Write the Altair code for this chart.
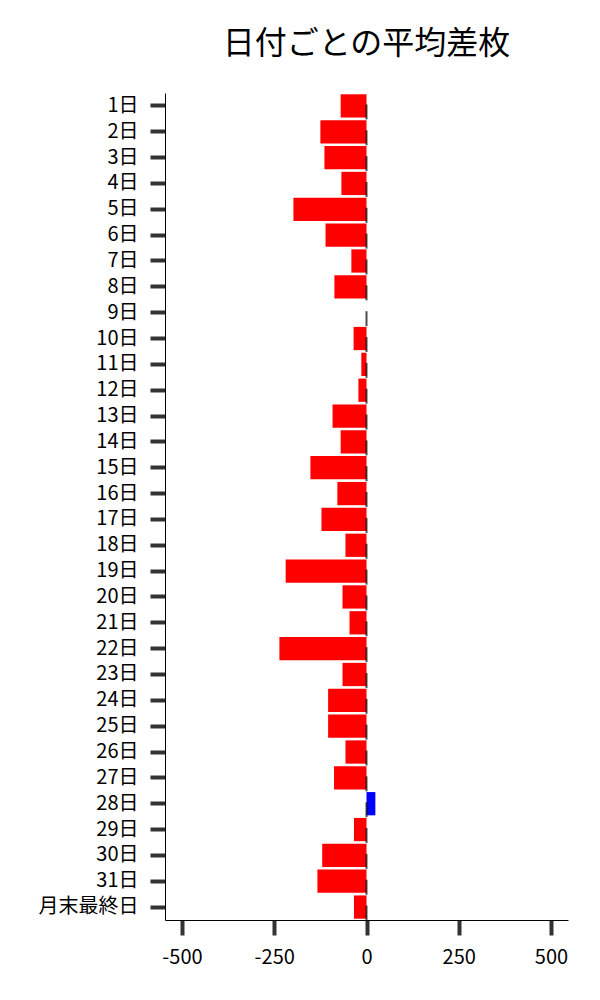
import altair as alt
import pandas as pd

days = [f"{i}日" for i in range(1, 32)] + ["月末最終日"]
values = [-70, -125, -114, -68, -198, -111, -41, -87, 0, -35, -14, -22,
          -92, -70, -152, -79, -122, -57, -219, -65, -46, -236, -65, -104,
          -104, -57, -88, 24, -34, -120, -133, -34]
x_ticks = [-500, -250, 0, 250, 500]

df = pd.DataFrame({"day": days, "value": values, "zero": [0] * len(days)})

FONT = "Noto Sans CJK JP"

y_enc = alt.Y("day:N", sort=days, title=None,
              scale=alt.Scale(paddingInner=0.1, paddingOuter=0.05),
              axis=alt.Axis(labelFontSize=20, labelColor="#000", labelFont=FONT,
                            tickSize=15, tickWidth=4, tickColor="#333",
                            domainColor="#000", domainWidth=1, labelPadding=12))
x_enc = alt.X("value:Q", title=None,
              scale=alt.Scale(domain=[-546, 546], nice=False, zero=False),
              axis=alt.Axis(values=x_ticks, labelFontSize=20, labelColor="#000",
                            labelFont=FONT, tickSize=15, tickWidth=4,
                            tickColor="#333", domainColor="#000", domainWidth=1,
                            grid=False, labelPadding=12,
                            labelExpr="'' + datum.value"))

bars = alt.Chart(df).mark_bar().encode(
    x=x_enc,
    y=y_enc,
    color=alt.condition(alt.datum.value >= 0, alt.value("#0000ff"), alt.value("#ff0000")),
)

ticks = alt.Chart(df).mark_tick(color="#000", thickness=2, size=15, yOffset=6, orient="vertical").encode(
    x=alt.X("zero:Q"),
    y=alt.Y("day:N", sort=days),
)

chart = alt.layer(bars, ticks).properties(
    width=403, height=827,
    title=alt.TitleParams("日付ごとの平均差枚", fontSize=32, font=FONT,
                          fontWeight="normal", color="#000", offset=32),
    padding={"left": 30, "top": 20, "right": 5, "bottom": 5},
).configure_view(stroke=None).configure_axis(grid=False)

chart.save("out.html", embed_options={"renderer": "svg", "actions": False})
